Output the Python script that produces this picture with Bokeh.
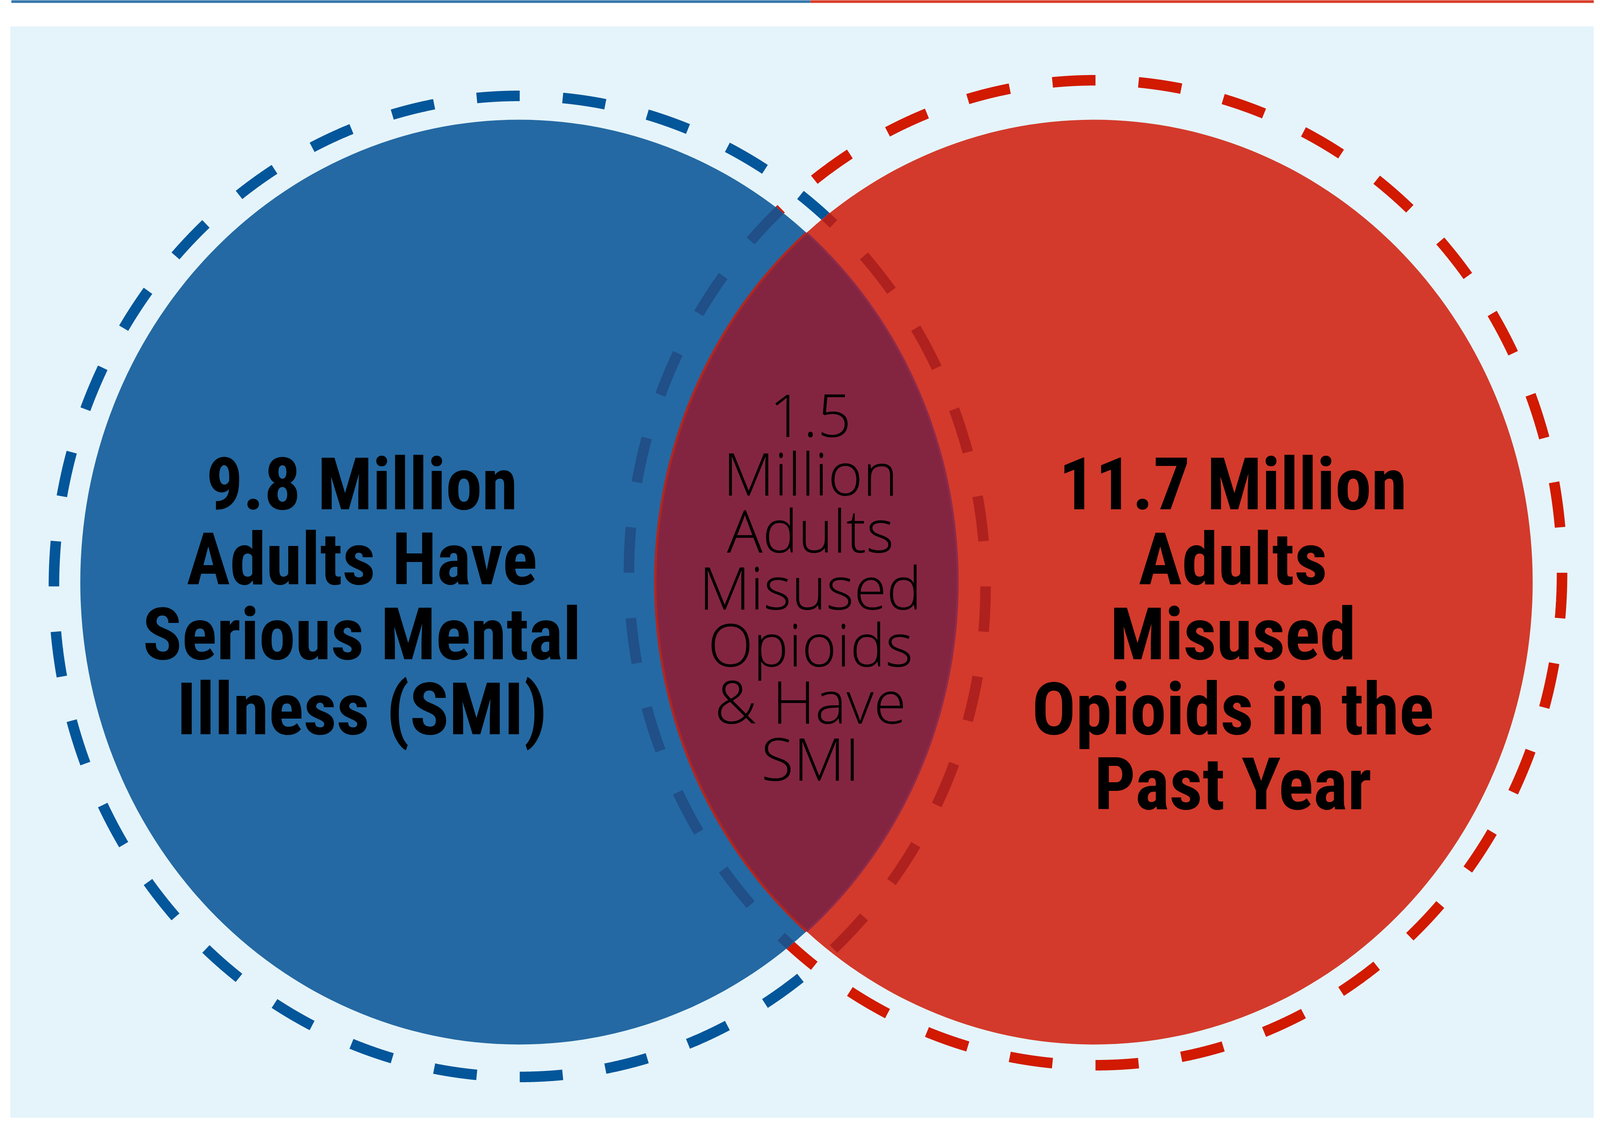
import numpy as np
from bokeh.plotting import figure
from bokeh.models import Range1d
from bokeh.embed import file_html
from bokeh.resources import INLINE
from bokeh.core.properties import value

# ---------------- data ----------------
smi_adults_millions = 9.8
opioid_adults_millions = 11.7
both_adults_millions = 1.5

smi_lines = [f"{smi_adults_millions:.1f} Million", "Adults Have", "Serious Mental", "Illness (SMI)"]
opioid_lines = [f"{opioid_adults_millions:.1f} Million", "Adults", "Misused", "Opioids in the", "Past Year"]
both_lines = [f"{both_adults_millions:.1f}", "Million", "Adults", "Misused", "Opioids", "& Have", "SMI"]

# ---------------- layout ----------------
# data units = pixels of the 4249 x 2878 reference; the visible page is ~4096 px wide
VIEW_W = 4096
W, H = VIEW_W - 16, 2862
SX = VIEW_W / 4249.0

BLUE_FILL = dict(cx=1386, cy=1498, rx=1165, ry=1184)
RED_FILL = dict(cx=2913, cy=1498, rx=1165, ry=1184)
BLUE_RING = dict(cx=1388, cy=1509, rx=1237, ry=1256)
RED_RING = dict(cx=2917, cy=1474, rx=1239, ry=1261)
N_DASH = 34
DASH_W = 27

C_PANEL = "#E5F4FA"
C_BAR_BLUE = "#3677AC"
C_BAR_RED = "#D93D2A"
C_BLUE_DASH = "#03569A"
C_RED_DASH = "#D11A00"
C_BLUE_FILL = "#2469A3"
C_RED_FILL = "#D33A2B"
C_LENS = "#832541"
C_DARK_BLUE = "#214F88"
C_DARK_RED = "#AF211E"

BIG_SIZE = 186
MID_SIZE = 152
BASE_SHIFT = 0.30  # em; compensates the baseline placement of the text glyph

p = figure(width=W, height=H, x_range=Range1d(8 / SX, (8 + W) / SX), y_range=Range1d(8 + H, 8),
           output_backend="svg", toolbar_location=None, min_border=0,
           x_axis_location=None, y_axis_location=None)
p.grid.visible = False
p.outline_line_color = None
p.background_fill_color = "white"
p.border_fill_color = "white"

# panel and top bar
p.quad(left=[35], right=[4260], top=[75], bottom=[2875], fill_color=C_PANEL, line_color=None)
p.quad(left=[38, 2160], right=[2160, 4260], top=[8, 8], bottom=[15, 15],
       fill_color=[C_BAR_BLUE, C_BAR_RED], line_color=None)


def inside(xs, ys, e):
    return ((xs - e["cx"]) / e["rx"]) ** 2 + ((ys - e["cy"]) / e["ry"]) ** 2 < 1


def ring_dashes(ring, other_fill, n):
    out_x, out_y, in_x, in_y = [], [], [], []
    step = 2 * np.pi / n
    for k in range(n):
        t = np.linspace(k * step, k * step + step / 2, 90)
        xs = ring["cx"] + ring["rx"] * np.cos(t)
        ys = ring["cy"] + ring["ry"] * np.sin(t)
        ins = inside(xs, ys, other_fill)
        s = 0
        for i in range(1, len(t) + 1):
            if i == len(t) or ins[i] != ins[s]:
                e = min(i + 1, len(t))
                if ins[s]:
                    in_x.append(xs[s:e]); in_y.append(ys[s:e])
                else:
                    out_x.append(xs[s:e]); out_y.append(ys[s:e])
                s = i
    return out_x, out_y, in_x, in_y


bo_x, bo_y, bi_x, bi_y = ring_dashes(BLUE_RING, RED_FILL, N_DASH)
ro_x, ro_y, ri_x, ri_y = ring_dashes(RED_RING, BLUE_FILL, N_DASH)

p.multi_line(xs=bo_x, ys=bo_y, line_color=C_BLUE_DASH, line_width=DASH_W, line_cap="butt")
p.multi_line(xs=ro_x, ys=ro_y, line_color=C_RED_DASH, line_width=DASH_W, line_cap="butt")

# filled circles
for e, c in ((BLUE_FILL, C_BLUE_FILL), (RED_FILL, C_RED_FILL)):
    p.ellipse(x=[e["cx"]], y=[e["cy"]], width=[2 * e["rx"]], height=[2 * e["ry"]],
              fill_color=c, line_color=None)

# lens (intersection)
tb = np.linspace(-np.pi, np.pi, 3000)
bx = BLUE_FILL["cx"] + BLUE_FILL["rx"] * np.cos(tb)
by = BLUE_FILL["cy"] + BLUE_FILL["ry"] * np.sin(tb)
mb = inside(bx, by, RED_FILL)
tr = np.linspace(0, 2 * np.pi, 3000)
rx_ = RED_FILL["cx"] + RED_FILL["rx"] * np.cos(tr)
ry_ = RED_FILL["cy"] + RED_FILL["ry"] * np.sin(tr)
mr = inside(rx_, ry_, BLUE_FILL)
lens_x = np.concatenate([bx[mb], rx_[mr]])
lens_y = np.concatenate([by[mb], ry_[mr]])
p.patch(x=lens_x, y=lens_y, fill_color=C_LENS, line_color=None)
p.line(x=rx_[mr], y=ry_[mr], line_color="#B3261F", line_width=6)
p.line(x=bx[mb], y=by[mb], line_color="#8E2B4A", line_width=5)

# dashes lying under the filled circles, darkened
p.multi_line(xs=bi_x, ys=bi_y, line_color=C_DARK_RED, line_width=DASH_W, line_cap="butt")
p.multi_line(xs=ri_x, ys=ri_y, line_color=C_DARK_BLUE, line_width=DASH_W, line_cap="butt")

# texts
big_font = value("Roboto Condensed Black, Roboto Condensed")
p.text(x=[969] * len(smi_lines),
       y=[1303 + 192 * i - BASE_SHIFT * BIG_SIZE for i in range(len(smi_lines))], text=smi_lines,
       text_font=big_font, text_font_style="bold", text_font_size=f"{BIG_SIZE}px",
       text_align="center", text_baseline="alphabetic", text_color="black")
p.text(x=[3282] * len(opioid_lines),
       y=[1303 + 192 * i - BASE_SHIFT * BIG_SIZE for i in range(len(opioid_lines))], text=opioid_lines,
       text_font=big_font, text_font_style="bold", text_font_size=f"{BIG_SIZE}px",
       text_align="center", text_baseline="alphabetic", text_color="black")
p.text(x=[2160] * len(both_lines),
       y=[1118 + 146 * i - BASE_SHIFT * MID_SIZE for i in range(len(both_lines))], text=both_lines,
       text_font=value("Open Sans Light"), text_font_style="normal", text_font_size=f"{MID_SIZE}px",
       text_align="center", text_baseline="alphabetic", text_color="black")

open("out.html", "w").write(file_html(p, INLINE))
